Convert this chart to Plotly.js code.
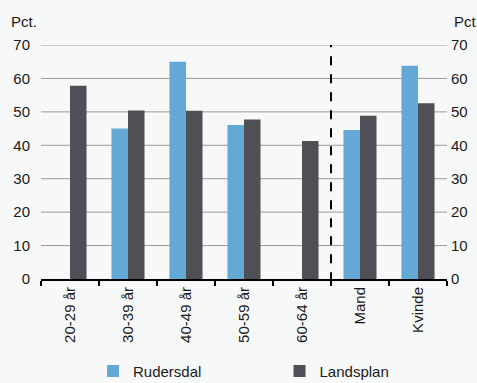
<!DOCTYPE html>
<html><head><meta charset="utf-8">
<script src="https://cdn.plot.ly/plotly-3.0.1.min.js"></script>
<style>html,body{margin:0;padding:0;background:#f7f8f8;}</style>
</head><body>
<div id="chart" style="width:477px;height:383px;"></div>
<script>
const categories = ["20-29 år","30-39 år","40-49 år","50-59 år","60-64 år","Mand","Kvinde"];
const rudersdal = [null, 45.0, 65.0, 46.1, null, 44.6, 63.8];
const landsplan = [57.8, 50.4, 50.3, 47.7, 41.3, 48.8, 52.6];
const yTicks = [0,10,20,30,40,50,60,70];

const traces = [
  {type:"bar", name:"Rudersdal", x:categories, y:rudersdal, marker:{color:"#62a9d5"}, legend:"legend"},
  {type:"bar", name:"Landsplan", x:categories, y:landsplan, marker:{color:"#4f5056"}, legend:"legend2"},
  {type:"scatter", mode:"markers", x:[0], y:[0], xaxis:"x2", yaxis:"y2", showlegend:false, hoverinfo:"skip", marker:{opacity:0}}
];
const font = {family:"Liberation Sans, Arial, sans-serif", size:15, color:"#1a1a1a"};
const gridShapes = yTicks.filter(v => v > 0).map(v => ({
  type:"line", xref:"paper", yref:"y", x0:0, x1:1, y0:v, y1:v, layer:"below",
  line:{color:"#999999", width:1}
}));
const layout = {
  width:477, height:383,
  margin:{l:41, r:30, t:45, b:104, autoexpand:false},
  paper_bgcolor:"#f7f8f8", plot_bgcolor:"rgba(0,0,0,0)",
  font:font,
  barmode:"group", bargap:0.43, bargroupgap:0,
  xaxis:{type:"category", tickangle:-90, tickson:"boundaries", ticks:"outside", ticklen:5, tickcolor:"#000", tickwidth:2,
         showline:true, linecolor:"#000", linewidth:2, showgrid:false, tickfont:font, automargin:false},
  yaxis:{range:[0,70], tickmode:"array", tickvals:yTicks, ticks:"", showgrid:false,
         zeroline:false, showline:false, tickfont:font, ticklabelstandoff:10, automargin:false},
  xaxis2:{domain:[0,1], anchor:"y2", range:[0,1], visible:false, showgrid:false, zeroline:false},
  yaxis2:{domain:[0,1], anchor:"x2", range:[0,70], tickmode:"array", tickvals:yTicks, side:"right", ticks:"", showgrid:false,
          zeroline:false, showline:false, tickfont:font, ticklabelstandoff:3, automargin:false},
  shapes:gridShapes.concat([{type:"line", xref:"x", yref:"paper", x0:4.5, x1:4.5, y0:-0.01, y1:1, line:{color:"#000", width:2, dash:"dash"}}]),
  annotations:[
    {text:"Pct.", xref:"paper", yref:"paper", x:-0.078, y:1.1, xanchor:"left", yanchor:"middle", showarrow:false, font:font},
    {text:"Pct.", xref:"paper", yref:"paper", x:1.013, y:1.1, xanchor:"left", yanchor:"middle", showarrow:false, font:font}
  ],
  legend:{orientation:"h", xref:"container", yref:"container", x:0.195, xanchor:"left", y:0.031, yanchor:"middle", font:font, bgcolor:"rgba(0,0,0,0)"},
  legend2:{orientation:"h", xref:"container", yref:"container", x:0.586, xanchor:"left", y:0.031, yanchor:"middle", font:font, bgcolor:"rgba(0,0,0,0)"},
  showlegend:true
};
Plotly.newPlot("chart", traces, layout, {displayModeBar:false, staticPlot:true});
</script>
</body></html>
